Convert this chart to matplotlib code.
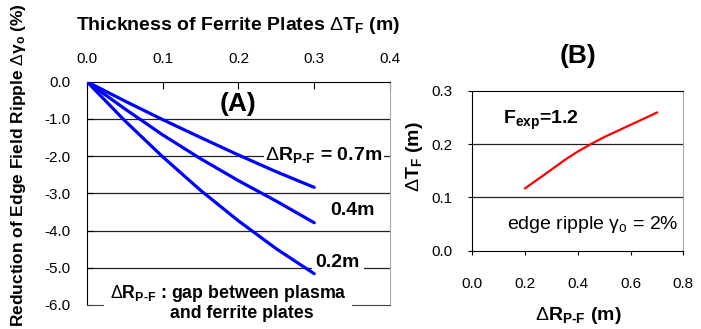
import matplotlib
matplotlib.use('Agg')
import matplotlib.pyplot as plt
from matplotlib.ticker import FuncFormatter

plt.rcParams['font.family'] = ['Liberation Sans', 'DejaVu Sans']
plt.rcParams['mathtext.fontset'] = 'custom'
plt.rcParams['mathtext.rm'] = 'Liberation Sans'
plt.rcParams['mathtext.it'] = 'Liberation Sans:italic'
plt.rcParams['mathtext.bf'] = 'Liberation Sans:bold'
plt.rcParams['axes.unicode_minus'] = False

# (A) ripple reduction vs ferrite thickness, one curve per plasma-ferrite gap
thickness = [0.0, 0.05, 0.10, 0.15, 0.20, 0.25, 0.30]
ripple_07 = [0.0, -0.52, -1.02, -1.50, -1.97, -2.42, -2.84]
ripple_04 = [0.0, -0.73, -1.43, -2.07, -2.66, -3.21, -3.79]
ripple_02 = [0.0, -1.05, -2.02, -2.92, -3.74, -4.49, -5.16]
a_xticks = [0.0, 0.1, 0.2, 0.3, 0.4]
a_yticks = [0.0, -1.0, -2.0, -3.0, -4.0, -5.0, -6.0]

# (B) thickness needed for 2% edge ripple vs gap
gap = [0.2, 0.3, 0.35, 0.4, 0.45, 0.5, 0.6, 0.7]
thick_needed = [0.117, 0.152, 0.170, 0.186, 0.200, 0.213, 0.236, 0.259]
b_xticks = [0.0, 0.2, 0.4, 0.6, 0.8]
b_yticks = [0.0, 0.1, 0.2, 0.3]

DR = '$\\Delta$R$_\\mathbf{P\u2010F}$'
fmt = FuncFormatter(lambda v, p: f'{v:.1f}')
TS = 11

fig = plt.figure(figsize=(7.01, 3.29), dpi=100)

# ---------- panel A ----------
ax = fig.add_axes([0.1241, 0.0730, 0.4322, 0.6787])
for y in [ripple_07, ripple_04, ripple_02]:
    ax.plot(thickness, y, color='#0000ff', lw=2.3, solid_capstyle='round', zorder=4)
ax.set_xlim(0, 0.4)
ax.set_ylim(-6, 0)
ax.set_xticks(a_xticks)
ax.set_yticks(a_yticks)
ax.xaxis.set_major_formatter(fmt)
ax.yaxis.set_major_formatter(fmt)
ax.xaxis.tick_top()
ax.xaxis.set_label_position('top')
ax.tick_params(axis='x', direction='in', length=5, pad=11, labelsize=TS, width=0.8)
ax.tick_params(axis='y', direction='in', length=4, pad=12, labelsize=TS, width=0.8)
for v in a_yticks[1:-1]:
    ax.axhline(v, color='#222222', lw=0.9, zorder=0.5)
ax.spines['right'].set_color('#a8a8a8')
ax.spines['bottom'].set_color('#444444')
ax.set_xlabel(r'Thickness of Ferrite Plates $\Delta$T$_\mathbf{F}$ (m)',
              fontsize=14, fontweight='bold', labelpad=16)
fig.text(0.026, 0.497, r'Reduction of Edge Field Ripple $\Delta\mathregular{\gamma}_\mathbf{o}$ (%)',
         rotation=90, ha='center', va='center', fontsize=12.5, fontweight='bold')
ax.text(0.2, -0.6, '(A)', ha='center', va='center', fontsize=19, fontweight='bold')

wb = dict(facecolor='white', edgecolor='none', pad=1)
ax.text(0.235, -1.97, DR + ' = 0.7m', ha='left', va='center', fontsize=14,
        fontweight='bold', bbox=wb)
ax.text(0.321, -3.45, '0.4m', ha='left', va='center', fontsize=14, fontweight='bold')
ax.text(0.302, -4.85, '0.2m', ha='left', va='center', fontsize=14,
        fontweight='bold', bbox=dict(facecolor='white', edgecolor='none', pad=3))
ax.text(0.030, -5.68, DR + ' : gap between plasma', ha='left', va='center',
        fontsize=12.8, fontweight='bold', clip_on=False,
        bbox=dict(facecolor='white', edgecolor='none', pad=4))
ax.text(0.1096, -6.22, 'and ferrite plates', ha='left', va='center',
        fontsize=12.8, fontweight='bold', clip_on=False)

# ---------- panel B ----------
bx = fig.add_axes([0.6738, 0.2380, 0.3010, 0.4863])
bx.plot(gap, thick_needed, color='#ff0000', lw=1.6)
bx.set_xlim(0, 0.8)
bx.set_ylim(0, 0.3)
bx.set_xticks(b_xticks)
bx.set_yticks(b_yticks)
bx.xaxis.set_major_formatter(fmt)
bx.yaxis.set_major_formatter(fmt)
bx.tick_params(axis='x', direction='out', length=3, pad=16, labelsize=TS, width=0.8)
bx.tick_params(axis='y', direction='out', length=3, pad=11, labelsize=TS, width=0.8)
for v in b_yticks[1:-1]:
    bx.axhline(v, color='#222222', lw=0.9, zorder=0.5)
bx.spines['right'].set_color('#a8a8a8')
bx.set_xlabel(DR + ' (m)', fontsize=14, fontweight='bold', labelpad=10)
fig.text(0.592, 0.525, r'$\Delta$T$_\mathbf{F}$ (m)', rotation=90, ha='center',
         va='center', fontsize=14, fontweight='bold')
bx.text(0.4, 0.365, '(B)', ha='center', va='center', fontsize=19,
        fontweight='bold', clip_on=False)
bx.text(0.117, 0.245, r'F$_\mathbf{exp}$=1.2', ha='left', va='center',
        fontsize=14, fontweight='bold')
bx.text(0.781, 0.05, r'edge ripple $\mathregular{\gamma_o}$ = 2%', ha='right',
        va='center', fontsize=14)

fig.savefig('out.png', dpi=100)
